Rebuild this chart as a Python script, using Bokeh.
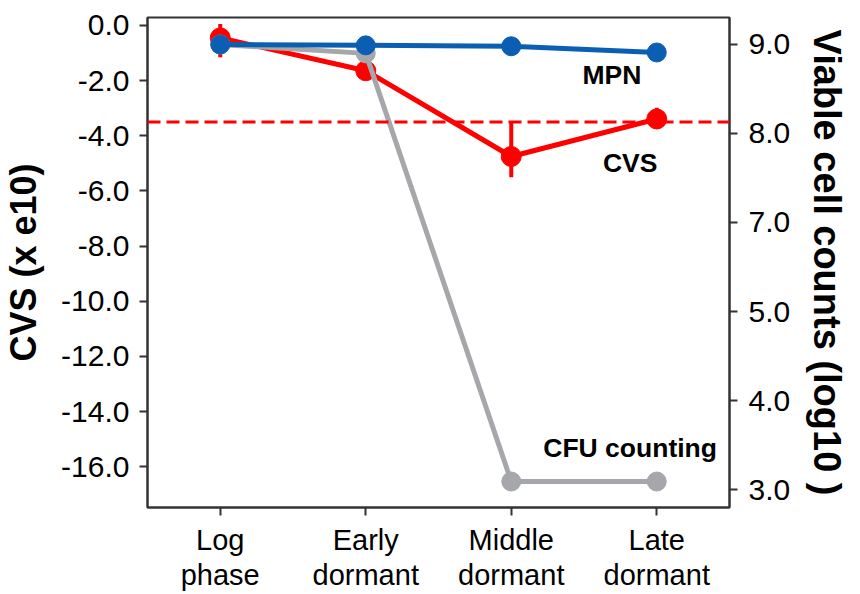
import numpy as np
from bokeh.plotting import figure
from bokeh.models import Range1d, LinearAxis, FixedTicker, Span, PrintfTickFormatter, FactorRange
from bokeh.core.properties import value
from bokeh.embed import file_html
from bokeh.resources import INLINE

# ---------------- data ----------------
stages = ["Log\nphase", "Early\ndormant", "Middle\ndormant", "Late\ndormant"]
cvs_mean = [-0.45, -1.64, -4.75, -3.39]          # CVS (x e10), left axis
cvs_err_up = [0.5, 0.1, 1.25, 0.41]
cvs_err_down = [0.7, 0.1, 0.75, 0.35]
cvs_threshold = -3.5
mpn_log10 = [9.0, 8.99, 8.98, 8.91]              # viable cell counts (log10), right axis
cfu_log10 = [9.0, 8.9, 3.09, 3.09]
left_ticks = [-16, -14, -12, -10, -8, -6, -4, -2, 0]
right_tick_labels = [3.0, 4.0, 5.0, 7.0, 8.0, 9.0]

# ---------------- style ----------------
FONT = "Liberation Sans"
RED = "#FF0000"
BLUE = "#0B5FB3"
GRAY = "#A6A7AA"
AX = "#333333"

W, H = 860, 594
p = figure(width=W, height=H, output_backend="svg", toolbar_location=None,
           x_range=FactorRange(*stages), y_range=Range1d(-17.48, 0.29),
           min_border_left=146, min_border_right=131, min_border_top=17, min_border_bottom=87)
p.extra_y_ranges = {"cells": Range1d(-0.202, 5.303)}
p.xgrid.visible = False
p.ygrid.visible = False
p.outline_line_color = AX
p.outline_line_width = 2
p.background_fill_color = "white"
p.border_fill_color = "white"

# right-axis positions: evenly spaced ticks labelled 3,4,5,7,8,9
right_idx = list(range(len(right_tick_labels)))
def to_right(v):
    return list(np.interp(v, right_tick_labels, right_idx))

cvs_lo = [m - d for m, d in zip(cvs_mean, cvs_err_down)]
cvs_hi = [m + u for m, u in zip(cvs_mean, cvs_err_up)]

p.add_layout(Span(location=cvs_threshold, dimension="width", line_color=RED,
                  line_width=3, line_dash="13 6"))

p.segment(x0=stages, y0=cvs_lo, x1=stages, y1=cvs_hi, line_color=RED, line_width=4)
p.line(stages, cvs_mean, line_color=RED, line_width=5)
p.scatter(stages, cvs_mean, size=20, fill_color=RED, line_color=RED)

cfu_y = to_right(cfu_log10)
p.line(stages, cfu_y, line_color=GRAY, line_width=5, y_range_name="cells")
p.scatter(stages, cfu_y, size=19, fill_color=GRAY, line_color=GRAY, y_range_name="cells")

mpn_y = to_right(mpn_log10)
p.line(stages, mpn_y, line_color=BLUE, line_width=5, y_range_name="cells")
p.scatter(stages, mpn_y, size=19, fill_color=BLUE, line_color=BLUE, y_range_name="cells")

# series labels
lab_kw = dict(text_font=value(FONT), text_font_style="bold", text_font_size="26.5px",
              text_color="black", text_align="left", text_baseline="middle")
p.text(x=[2.99], y=[-1.81], text=["MPN"], **lab_kw)
p.text(x=[3.13], y=[-5.0], text=["CVS"], **lab_kw)
p.text(x=[2.72], y=[-15.33], text=["CFU counting"], **lab_kw)

def style_axis(ax, size):
    ax.axis_line_color = AX
    ax.axis_line_width = 2
    ax.major_tick_line_color = AX
    ax.major_tick_line_width = 2
    ax.major_tick_out = 8
    ax.major_tick_in = 0
    ax.minor_tick_line_color = None
    ax.major_label_text_font = FONT
    ax.major_label_text_font_size = size
    ax.major_label_text_color = "black"
    ax.axis_label_text_font = FONT
    ax.axis_label_text_font_size = "37px"
    ax.axis_label_text_font_style = "bold"
    ax.axis_label_text_color = "black"

ly = p.yaxis[0]
ly.ticker = FixedTicker(ticks=left_ticks)
ly.formatter = PrintfTickFormatter(format="%.1f")
ly.axis_label = "CVS (x e10)"
style_axis(ly, "30px")
ly.major_label_standoff = 10
ly.axis_label_standoff = 14
ly.axis_label_text_font_size = "36px"

ry = LinearAxis(y_range_name="cells", axis_label="Viable cell counts (log10 )")
ry.ticker = FixedTicker(ticks=right_idx)
ry.major_label_overrides = {i: f"{v:.1f}" for i, v in zip(right_idx, right_tick_labels)}
style_axis(ry, "30px")
ry.major_label_standoff = 11
ry.axis_label_standoff = 13
ry.axis_label_text_font_size = "38px"
p.add_layout(ry, "right")

xa = p.xaxis[0]
style_axis(xa, "29px")
xa.major_label_standoff = 8
xa.major_label_text_line_height = 1.12

open("out.html", "w").write(file_html(p, INLINE))
